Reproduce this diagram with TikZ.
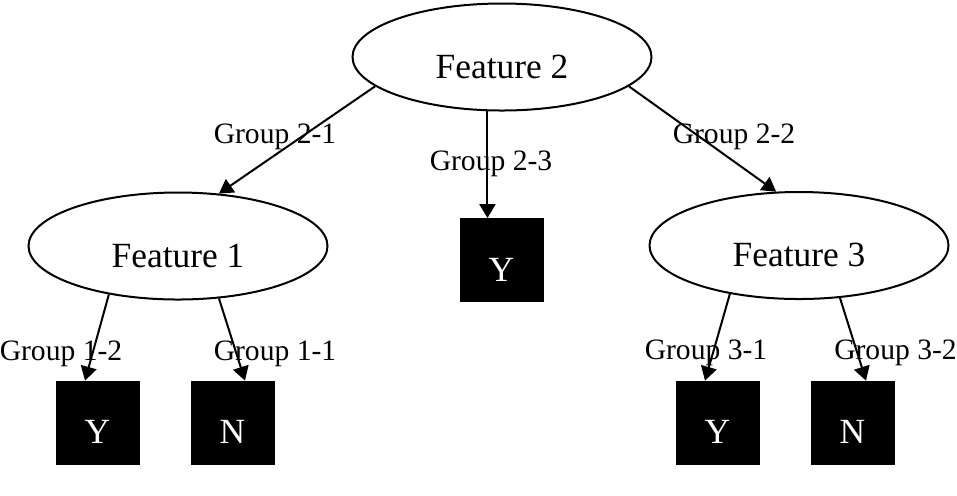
\documentclass[tikz,border=0pt]{standalone}
\usepackage{fontspec}
\setmainfont{Liberation Serif}
\usetikzlibrary{arrows.meta,shapes.geometric}

\begin{document}
\begin{tikzpicture}[x=0.5pt,y=-0.5pt,
  feature/.style={ellipse,draw,line width=1pt,minimum width=149.5pt,minimum height=53.5pt,
    inner sep=0pt,font=\fontsize{17.7}{20}\selectfont,text height=21pt,text depth=0pt},
  leaf/.style={rectangle,draw=black,fill=black,text=white,minimum size=41.5pt,
    inner sep=0pt,font=\fontsize{17.7}{20}\selectfont,text height=21pt,text depth=0pt},
  group/.style={anchor=base,inner sep=0pt,font=\fontsize{14.8}{17}\selectfont},
  branch/.style={line width=1pt,-{Triangle[length=7pt,width=8pt]}}]
\useasboundingbox (0,0) rectangle (957,495);

% Feature nodes
\node[feature] (f2) at (502,57) {Feature 2};
\node[feature] (f1) at (178,246) {Feature 1};
\node[feature] (f3) at (799,245.5) {Feature 3};

% Leaves
\node[leaf] (y2) at (501.5,260) {Y};
\node[leaf] (y1) at (97.5,422.5) {Y};
\node[leaf] (n1) at (232.5,422.5) {N};
\node[leaf] (y3) at (717.5,422.5) {Y};
\node[leaf] (n3) at (852.5,422.5) {N};

% Group labels
\node[group] (l21) at (275,143) {Group 2-1};
\node[group] (l23) at (491,170) {Group 2-3};
\node[group] (l22) at (734,143) {Group 2-2};
\node[group] (l12) at (61,360) {Group 1-2};
\node[group] (l11) at (275,360) {Group 1-1};
\node[group] (l31) at (706,359) {Group 3-1};
\node[group] (l32) at (895.5,359) {Group 3-2};

% Branches
\draw[branch] (f2.193) -- (f1.52);
\draw[branch] (f2.255) -- (f2.255 |- y2.north);
\draw[branch] (f2.347) -- (f3.113);
\draw[branch] (f1.215) -- ([xshift=-6.25pt]y1.north);
\draw[branch] (f1.308) -- ([xshift=6.25pt]n1.north);
\draw[branch] (f3.215) -- ([xshift=-6.25pt]y3.north);
\draw[branch] (f3.308) -- ([xshift=6.75pt]n3.north);
\end{tikzpicture}
\end{document}
